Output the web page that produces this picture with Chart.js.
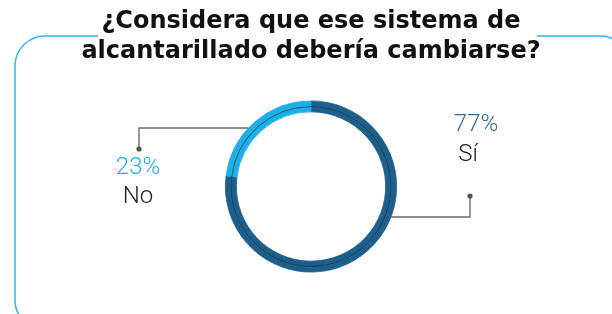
<!DOCTYPE html>
<html>
<head>
<meta charset="utf-8">
<script src="https://cdn.jsdelivr.net/npm/chart.js@4.4.0/dist/chart.umd.min.js"></script>
<style>
  html, body { margin:0; padding:0; background:#fff; }
  #wrap { width:612px; height:314px; position:relative; }
</style>
</head>
<body>
<div id="wrap"><canvas id="chart" width="612" height="314"></canvas></div>
<script>
(() => {
  const categories = ['Sí', 'No'];
  const percents = [77, 23];
  const titleLines = ['¿Considera que ese sistema de', 'alcantarillado debería cambiarse?'];

  const darkBlue = '#1b5f8d';
  const lightBlue = '#1cb0ea';
  const colors = [darkBlue, lightBlue];
  const pctColors = ['#2a6a9c', '#1cb0ea'];

  // rounded frame with a gap for the title
  const framePlugin = {
    id: 'frame',
    beforeDraw(chart){
      const c = chart.ctx;
      const l = 15, t = 36, r = 630, b = 330, rad = 30;
      c.save();
      c.strokeStyle = '#2bb7f3';
      c.lineWidth = 1.5;
      c.beginPath();
      c.moveTo(98, t);
      c.lineTo(l + rad, t);
      c.arcTo(l, t, l, t + rad, rad);
      c.lineTo(l, b - rad);
      c.arcTo(l, b, l + rad, b, rad);
      c.lineTo(r - rad, b);
      c.arcTo(r, b, r, b - rad, rad);
      c.lineTo(r, t + rad);
      c.arcTo(r, t, r - rad, t, rad);
      c.lineTo(537, t);
      c.stroke();
      c.restore();
    }
  };

  // leader lines + labels, anchored on the outer edge of the ring
  const leaderPlugin = {
    id: 'leaders',
    afterDraw(chart, args, opts){
      const c = chart.ctx;
      const arc = chart.getDatasetMeta(0).data[0];
      const cx = arc.x, cy = arc.y, R = arc.outerRadius;
      opts.items.forEach(it => {
        const i = it.index;
        const dy = it.lineY - cy;
        const side = it.elbowX < cx ? -1 : 1;
        const hx = cx + side * Math.sqrt(R * R - dy * dy);
        c.save();
        c.strokeStyle = '#6b6b6b';
        c.lineWidth = 1.4;
        c.beginPath();
        c.moveTo(hx, it.lineY);
        c.lineTo(it.elbowX, it.lineY);
        c.lineTo(it.elbowX, it.dotY);
        c.stroke();
        c.fillStyle = '#555';
        c.beginPath();
        c.arc(it.elbowX, it.dotY, 2.6, 0, Math.PI * 2);
        c.fill();
        c.textAlign = 'center';
        c.textBaseline = 'middle';
        c.font = '300 24px Roboto';
        c.fillStyle = pctColors[i];
        c.fillText(percents[i] + '%', it.textX, it.pctY);
        c.fillStyle = '#1f1f1f';
        c.fillText(categories[i], it.nameX, it.nameY);
        c.restore();
      });
    }
  };

  const ring = (bg, weight, bw) => ({
    data: percents,
    backgroundColor: bg,
    borderColor: bg,
    borderWidth: bw,
    weight
  });

  new Chart(document.getElementById('chart'), {
    type: 'doughnut',
    data: {
      labels: categories,
      datasets: [
        ring(colors, 5, 0.8),
        ring(['#1c2630', '#1c2630'], 0.8, 0.5),
        ring(colors, 5.2, 0.8)
      ]
    },
    options: {
      responsive: false,
      animation: false,
      cutout: '87.2%',
      layout: { padding: { left: 10, right: 0, top: 0, bottom: 41.5 } },
      plugins: {
        legend: { display: false },
        tooltip: { enabled: false },
        title: {
          display: true,
          text: titleLines,
          color: '#111',
          font: { family: 'DejaVu Sans', weight: 'bold', size: 24, lineHeight: 1.25 },
          padding: { top: 7, bottom: 33.5 }
        },
        leaders: {
          items: [
            { index: 1, lineY: 128, elbowX: 139, dotY: 149, textX: 138, pctY: 168, nameX: 138, nameY: 197 },
            { index: 0, lineY: 217, elbowX: 470, dotY: 196, textX: 476, pctY: 125, nameX: 468, nameY: 155 }
          ]
        }
      }
    },
    plugins: [framePlugin, leaderPlugin]
  });
})();
</script>
</body>
</html>
